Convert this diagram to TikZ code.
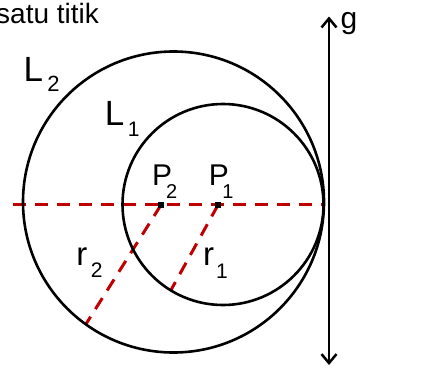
\documentclass[tikz,border=0pt]{standalone}
\usepackage{fontspec}
\setmainfont{Liberation Sans}
\usetikzlibrary{arrows.meta}
\definecolor{dred}{RGB}{192,0,0}
\newcommand{\fsz}[1]{\fontsize{#1}{#1}\selectfont}
% \lbl{main}{sub}{sub size}{gap}{drop}
\newcommand{\lbl}[5]{#1\hspace{#4}\raisebox{#5}{\fsz{#3}#2}}
\begin{document}
\begin{tikzpicture}[x=1pt,y=-1pt,
  circ/.style={draw=black,line width=2.6pt},
  reddash/.style={draw=dred,line width=3pt,dash pattern=on 13pt off 9pt},
  lab/.style={anchor=base west,inner sep=0pt},
  ctr/.style={fill=black,rectangle,inner sep=0pt,minimum size=6.5pt},
  axis/.style={draw=black,line width=2.8pt,{Straight Barb[length=9pt,width=15pt,line width=2.5pt]}-{Straight Barb[length=9pt,width=15pt,line width=2.5pt]}}]
\useasboundingbox (0,0) rectangle (444,367);
% centres of the circles
\coordinate (c2) at (173.5,202);
\coordinate (c1) at (223,204.5);
% ends of the dashed lines
\coordinate (hl) at (13,204);
\coordinate (hr) at (323,204);
\coordinate (e2) at (86,324);
\coordinate (e1) at (171,290);
% line g
\coordinate (gt) at (329,16.5);
\coordinate (gb) at (329,365);
% centre markers
\node[ctr] (P2) at (161,205) {};
\node[ctr] (P1) at (218,205) {};
% dashed lines
\draw[reddash] (hl) -- (hr);
\draw[reddash] (P2.center) -- (e2);
\draw[reddash] (P1.center) -- (e1);
% circles
\draw[circ] (c2) circle[radius=150.5pt];
\draw[circ] (c1) circle[radius=100.5pt];
% redraw markers on top
\node[ctr] at (P2.center) {};
\node[ctr] at (P1.center) {};
% line g
\draw[axis] (gb) -- (gt);
% texts
\node[lab,font=\fsz{28pt}] (title) at (-4,23.5) {satu titik};
\node[lab,font=\fsz{30pt}] (gl) at (340.5,28.3) {g};
\node[lab,font=\fsz{35pt}] (L2) at (23.4,81) {\lbl{L}{2}{22pt}{4.2pt}{-10.7pt}};
\node[lab,font=\fsz{35pt}] (L1) at (104.7,125.7) {\lbl{L}{1}{21pt}{3.5pt}{-11pt}};
\node[lab,font=\fsz{30pt}] (P2l) at (151.9,185) {\lbl{P}{2}{20pt}{-6.1pt}{-13.3pt}};
\node[lab,font=\fsz{30pt}] (P1l) at (208.6,185) {\lbl{P}{1}{20pt}{-6.5pt}{-13.3pt}};
\node[lab,font=\fsz{33pt}] (r2l) at (76.1,265) {\lbl{r}{2}{21pt}{3.7pt}{-12pt}};
\node[lab,font=\fsz{33pt}] (r1l) at (202.8,265.5) {\lbl{r}{1}{21pt}{2.2pt}{-13pt}};
\end{tikzpicture}
\end{document}
